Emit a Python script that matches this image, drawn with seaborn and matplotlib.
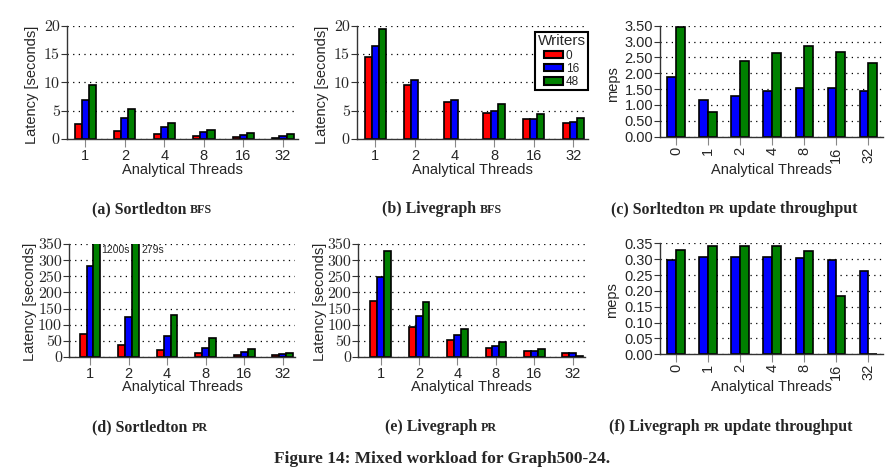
import numpy as np
import pandas as pd
import matplotlib.pyplot as plt
import seaborn as sns

threads = ['1', '2', '4', '8', '16', '32']
threads_upd = ['0', '1', '2', '4', '8', '16', '32']
writers = ['0', '16', '48']

# (a) Sortledton BFS latency [s]
sort_bfs_w0 = [2.6, 1.4, 0.8, 0.5, 0.35, 0.2]
sort_bfs_w16 = [6.8, 3.7, 2.05, 1.15, 0.65, 0.45]
sort_bfs_w48 = [9.6, 5.3, 2.8, 1.6, 1.1, 0.8]

# (b) Livegraph BFS latency [s] (48 writers missing at 2 and 4 threads)
live_bfs_w0 = [14.5, 9.5, 6.45, 4.6, 3.5, 2.8]
live_bfs_w16 = [16.4, 10.4, 6.9, 4.9, 3.6, 3.0]
live_bfs_w48 = [19.5, np.nan, np.nan, 6.1, 4.5, 3.7]

# (c) Sortledton PR update throughput [meps]
sort_upd_w16 = [1.87, 1.17, 1.29, 1.45, 1.52, 1.55, 1.45]
sort_upd_w48 = [3.45, 0.79, 2.38, 2.63, 2.87, 2.68, 2.31]

# (d) Sortledton PR latency [s] (two bars go off the scale)
sort_pr_w0 = [72, 37, 20.6, 12.4, 6, 5]
sort_pr_w16 = [282, 122.5, 64, 28, 14.4, 9]
sort_pr_w48 = [1200, 1279, 131, 59, 24.7, 12]
offscale_labels = ['1200s', '279s']

# (e) Livegraph PR latency [s]
live_pr_w0 = [174, 92.6, 52.5, 28.8, 17.5, 12.4]
live_pr_w16 = [247, 125.6, 67, 34, 18.5, 12.4]
live_pr_w48 = [329, 170, 87.5, 46.3, 25.7, 2.5]

# (f) Livegraph PR update throughput [meps]
live_upd_w16 = [0.297, 0.306, 0.306, 0.306, 0.304, 0.297, 0.262]
live_upd_w48 = [0.329, 0.341, 0.341, 0.340, 0.325, 0.183, 0.002]

colors = {'0': '#ff0000', '16': '#0000ff', '48': '#008000'}

sns.set_theme(style='ticks')
plt.rcParams['font.family'] = ['Liberation Sans', 'DejaVu Sans']

W, H = 896, 472
fig = plt.figure(figsize=(W / 100, H / 100), dpi=100)


def to_long(cats, series):
    rows = []
    for w, vals in series.items():
        for c, v in zip(cats, vals):
            if not np.isnan(v):
                rows.append({'threads': c, 'writers': w, 'value': v})
    return pd.DataFrame(rows)


def panel(px, cats, series, ylim, ystep, xlim, serif_ticks, ylabel, fmt,
          rot, xlab_y, ylab_xy, legend=False):
    left, top, right, bottom = px
    ax = fig.add_axes([left / W, 1 - bottom / H, (right - left) / W, (bottom - top) / H])
    df = to_long(cats, series)
    hue_order = list(series.keys())
    sns.barplot(data=df, x='threads', y='value', hue='writers', order=cats,
                hue_order=hue_order, palette=colors, width=0.54,
                edgecolor='black', linewidth=1.2, saturation=1,
                errorbar=None, legend=legend, ax=ax)
    ax.set_xlim(*xlim)
    ax.set_ylim(*ylim)
    ax.set_yticks(np.arange(0, ylim[1] + ystep / 2, ystep))
    ax.yaxis.set_major_formatter(plt.FormatStrFormatter(fmt))
    ax.set_axisbelow(True)
    ax.yaxis.grid(True, linestyle=(0, (1, 3.5)), color='black', linewidth=0.9)
    for s in ['top', 'right']:
        ax.spines[s].set_visible(False)
    for s in ['left', 'bottom']:
        ax.spines[s].set_color('#333333')
        ax.spines[s].set_linewidth(1.0)
    ax.tick_params(axis='y', length=4, width=0.8, color='#333333', pad=1)
    ax.tick_params(axis='x', length=6, width=0.8, color='#888888', pad=1,
                   labelsize=10.5, rotation=rot)
    for t in ax.get_yticklabels():
        if serif_ticks:
            t.set_fontfamily('cmr10')
            t.set_fontsize(11.5)
        else:
            t.set_fontsize(10.5)
    ax.set_xlabel('Analytical Threads', fontsize=10.5, va='center')
    ax.xaxis.set_label_coords(0.5, xlab_y)
    ax.set_ylabel(ylabel, fontsize=10.5, va='center')
    ax.yaxis.set_label_coords(*ylab_xy)
    return ax


lat = 'Latency [seconds]'
axa = panel((66.7, 25.7, 298, 139), threads,
            {'0': sort_bfs_w0, '16': sort_bfs_w16, '48': sort_bfs_w48},
            (0, 20), 5, (-0.47, 5.38), True, lat, '%d', 0, -0.274, (-0.15, 0.48))
axb = panel((356.7, 25.7, 588, 139), threads,
            {'0': live_bfs_w0, '16': live_bfs_w16, '48': live_bfs_w48},
            (0, 20), 5, (-0.47, 5.37), True, lat, '%d', 0, -0.274, (-0.151, 0.48),
            legend=True)
axc = panel((660, 25.7, 883, 136.7), threads_upd,
            {'16': sort_upd_w16, '48': sort_upd_w48},
            (0, 3.5), 0.5, (-0.5, 6.46), False, 'meps', '%.2f', 90, -0.3, (-0.209, 0.475))
axd = panel((69, 244, 295, 357), threads,
            {'0': sort_pr_w0, '16': sort_pr_w16, '48': sort_pr_w48},
            (0, 350), 50, (-0.545, 5.32), True, lat, '%d', 0, -0.263, (-0.171, 0.487))
axe = panel((358.3, 244, 585, 357), threads,
            {'0': live_pr_w0, '16': live_pr_w16, '48': live_pr_w48},
            (0, 350), 50, (-0.583, 5.32), True, lat, '%d', 0, -0.263, (-0.17, 0.487))
axf = panel((660, 243.3, 883, 354.3), threads_upd,
            {'16': live_upd_w16, '48': live_upd_w48},
            (0, 0.35), 0.05, (-0.5, 6.46), False, 'meps', '%.2f', 90, -0.291, (-0.217, 0.49))

# off-scale values in (d)
for i, lab in enumerate(offscale_labels):
    axd.text(i + 0.29 + 0.04 * i, 331, lab, fontsize=7.5, ha='left', va='center')

# legend in (b)
sns.move_legend(axb, 'upper right', bbox_to_anchor=(1.0, 0.944), title='Writers',
                frameon=True, fancybox=False, fontsize=8.5, title_fontsize=11,
                handlelength=1.6, handleheight=0.6, handletextpad=0.2,
                labelspacing=0.1, borderpad=0.2, borderaxespad=0)
leg = axb.get_legend()
leg.get_frame().set_edgecolor('black')
leg.get_frame().set_linewidth(1.5)
leg.get_frame().set_alpha(1)
for h in leg.legend_handles:
    h.set_edgecolor('black')
    h.set_linewidth(1.5)

renderer = fig.canvas.get_renderer()


def caption(cx, cy, parts, size=11.4):
    texts = []
    for s, small in parts:
        t = fig.text(0, 1 - cy / H, s, fontsize=size * 0.76 if small else size,
                     fontweight='bold', family='Liberation Serif', va='baseline')
        texts.append(t)
    widths = [t.get_window_extent(renderer).width for t in texts]
    x = cx - sum(widths) / 2
    for t, w in zip(texts, widths):
        t.set_x(x / W)
        x += w


caption(152, 213, [('(a) Sortledton ', False), ('BFS', True)])
caption(442, 213, [('(b) Livegraph ', False), ('BFS', True)])
caption(734, 213, [('(c) Sorltedton ', False), ('PR', True), (' update throughput', False)])
caption(150, 431, [('(d) Sortledton ', False), ('PR', True)])
caption(441, 431, [('(e) Livegraph ', False), ('PR', True)])
caption(731, 431, [('(f) Livegraph ', False), ('PR', True), (' update throughput', False)])
caption(442, 463, [('Figure 14: Mixed workload for Graph500-24.', False)], size=12.5)

fig.savefig('out.png', dpi=100)
